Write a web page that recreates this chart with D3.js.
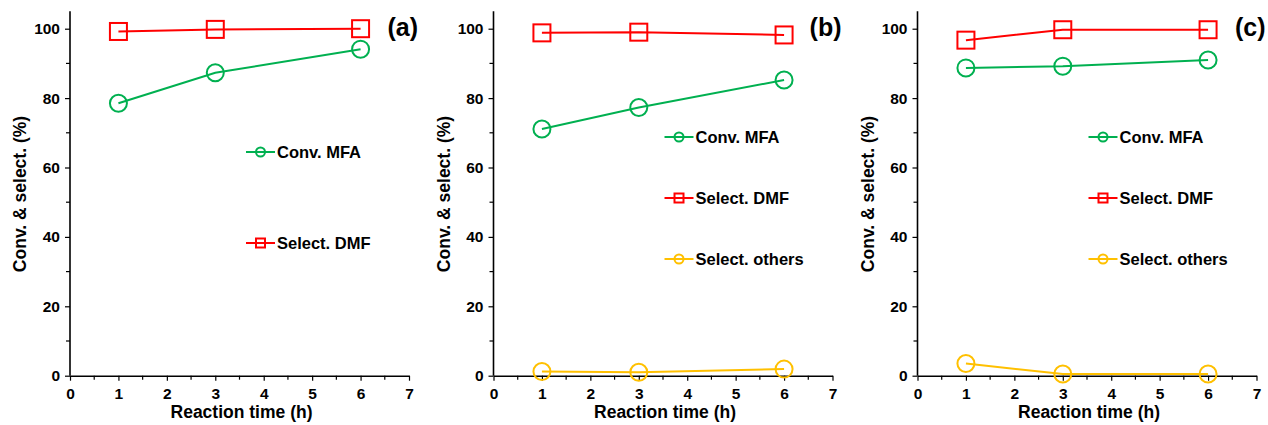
<!DOCTYPE html>
<html>
<head>
<meta charset="utf-8">
<script src="https://cdn.jsdelivr.net/npm/d3@7"></script>
<style>
  body { margin: 0; background: #fff; }
  svg text { font-family: "Liberation Sans", Arial, sans-serif; font-weight: bold; }
</style>
</head>
<body>
<script>
'use strict';

// reaction times (h)
const times = [1, 3, 6];

// panel (a)
const convA = [78.5, 87.3, 94.1];
const dmfA = [99.2, 99.8, 100.0];
// panel (b)
const convB = [71.1, 77.3, 85.2];
const dmfB = [98.8, 99.0, 98.2];
const othersB = [1.2, 1.0, 1.9];
// panel (c)
const convC = [88.7, 89.2, 91.0];
const dmfC = [96.7, 99.7, 99.7];
const othersC = [3.5, 0.5, 0.5];

const panelLabels = ['(a)', '(b)', '(c)'];
const xTicks = [0, 1, 2, 3, 4, 5, 6, 7];
const yTicks = [0, 20, 40, 60, 80, 100];

const width = 1268;
const height = 425;

const colors = { conv: '#00B050', dmf: '#FF0000', others: '#FFC000' };

const panels = [
  { label: panelLabels[0], x0: 70, legendX: 176, legendY: [152, 243],
    series: [
      { name: 'Conv. MFA', values: convA, color: colors.conv, shape: 'circle' },
      { name: 'Select. DMF', values: dmfA, color: colors.dmf, shape: 'square' }
    ] },
  { label: panelLabels[1], x0: 493.5, legendX: 171, legendY: [137, 198, 259],
    series: [
      { name: 'Conv. MFA', values: convB, color: colors.conv, shape: 'circle' },
      { name: 'Select. DMF', values: dmfB, color: colors.dmf, shape: 'square' },
      { name: 'Select. others', values: othersB, color: colors.others, shape: 'circle' }
    ] },
  { label: panelLabels[2], x0: 917.5, legendX: 171, legendY: [137, 198, 259],
    series: [
      { name: 'Conv. MFA', values: convC, color: colors.conv, shape: 'circle' },
      { name: 'Select. DMF', values: dmfC, color: colors.dmf, shape: 'square' },
      { name: 'Select. others', values: othersC, color: colors.others, shape: 'circle' }
    ] }
];

const svg = d3.select('body').append('svg')
  .attr('width', width)
  .attr('height', height);

const yScale = d3.scaleLinear().domain([0, 100]).range([375.7, 28.7]);
const yTop = yScale(105);

panels.forEach(drawPanel);

function drawPanel(p) {
  const g = svg.append('g');
  const xScale = d3.scaleLinear().domain([0, 7]).range([p.x0, p.x0 + 339]);

  // minor ticks
  const xMinor = d3.range(0.5, 7, 1);
  g.selectAll('.xminor').data(xMinor).enter().append('line')
    .attr('x1', d => xScale(d)).attr('x2', d => xScale(d))
    .attr('y1', yScale(0)).attr('y2', yScale(0) + 4)
    .attr('stroke', '#000').attr('stroke-width', 1.2);
  const yMinor = d3.range(10, 101, 20);
  g.selectAll('.yminor').data(yMinor).enter().append('line')
    .attr('x1', xScale(0) - 4).attr('x2', xScale(0))
    .attr('y1', d => yScale(d)).attr('y2', d => yScale(d))
    .attr('stroke', '#000').attr('stroke-width', 1.2);

  const xAxis = g.append('g')
    .attr('transform', 'translate(0,' + yScale(0) + ')')
    .call(d3.axisBottom(xScale).tickValues(xTicks).tickFormat(d3.format('d'))
      .tickSize(5).tickPadding(7).tickSizeOuter(0));
  const yAxis = g.append('g')
    .attr('transform', 'translate(' + xScale(0) + ',0)')
    .call(d3.axisLeft(yScale).tickValues(yTicks).tickFormat(d3.format('d'))
      .tickSize(5).tickPadding(5).tickSizeOuter(0));
  yAxis.select('.domain').attr('d', 'M0,' + yScale(0) + 'V' + yTop);

  [xAxis, yAxis].forEach(a => {
    a.select('.domain').attr('stroke-width', 1.6);
    a.selectAll('.tick line').attr('stroke-width', 1.2);
    a.selectAll('.tick text')
      .style('font-size', '15.5px')
      .style('font-family', '"Liberation Sans", Arial, sans-serif')
      .style('font-weight', 'bold')
      .attr('fill', '#000');
  });

  // axis titles
  g.append('text')
    .attr('x', xScale(3.5) + 2)
    .attr('y', 418)
    .attr('text-anchor', 'middle')
    .style('font-size', '17.5px')
    .text('Reaction time (h)');
  g.append('text')
    .attr('transform', 'translate(' + (xScale(0) - 44) + ',' + 194 + ')rotate(-90)')
    .attr('text-anchor', 'middle')
    .style('font-size', '17.5px')
    .text('Conv. & select. (%)');

  // panel label
  g.append('text')
    .attr('x', xScale(7) + 9)
    .attr('y', 36)
    .attr('text-anchor', 'end')
    .style('font-size', '25px')
    .text(p.label);

  const line = d3.line()
    .x((d, i) => xScale(times[i]))
    .y(d => yScale(d));

  p.series.forEach((s, si) => {
    g.append('path')
      .datum(s.values)
      .attr('d', line)
      .attr('fill', 'none')
      .attr('stroke', s.color)
      .attr('stroke-width', 2);

    drawMarkers(g, s, s.values.map((v, i) => [xScale(times[i]), yScale(v)]), 8.5);

    // legend entry
    const lx = p.x0 + p.legendX;
    const ly = p.legendY[si];
    g.append('line')
      .attr('x1', lx).attr('x2', lx + 29)
      .attr('y1', ly).attr('y2', ly)
      .attr('stroke', s.color).attr('stroke-width', 2);
    drawMarkers(g, s, [[lx + 14.5, ly]], 4.5);
    g.append('text')
      .attr('x', lx + 31)
      .attr('y', ly)
      .attr('dy', '0.36em')
      .style('font-size', '16.5px')
      .text(s.name);
  });
}

function drawMarkers(g, s, pts, r) {
  if (s.shape === 'circle') {
    g.selectAll(null).data(pts).enter().append('circle')
      .attr('cx', d => d[0]).attr('cy', d => d[1]).attr('r', r)
      .attr('fill', 'none').attr('stroke', s.color).attr('stroke-width', 2);
  } else {
    g.selectAll(null).data(pts).enter().append('rect')
      .attr('x', d => d[0] - r).attr('y', d => d[1] - r)
      .attr('width', 2 * r).attr('height', 2 * r)
      .attr('fill', 'none').attr('stroke', s.color).attr('stroke-width', 2);
  }
}
</script>
</body>
</html>
